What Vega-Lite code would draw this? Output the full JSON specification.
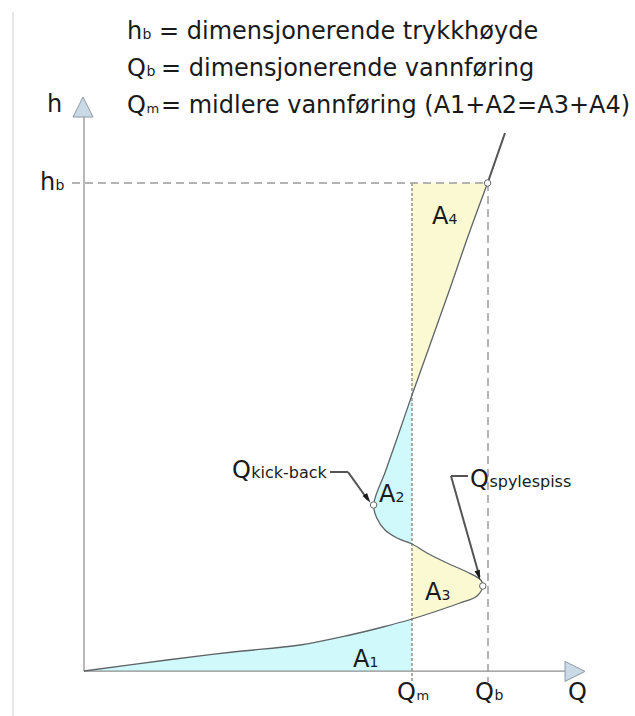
{
  "$schema": "https://vega.github.io/schema/vega-lite/v6.json",
  "width": 635,
  "height": 716,
  "autosize": {"type": "none"},
  "padding": 0,
  "background": "white",
  "config": {"view": {"stroke": null}},
  "resolve": {"scale": {"color": "independent", "strokeDash": "independent", "strokeWidth": "independent"}},
  "datasets": {
    "curve": [
      {"i": 0, "q": 0, "h": 0},
      {"i": 1, "q": 20.75, "h": 2.75},
      {"i": 2, "q": 37.25, "h": 4.75},
      {"i": 3, "q": 54, "h": 6.5},
      {"i": 4, "q": 66.5, "h": 9},
      {"i": 5, "q": 74.75, "h": 11},
      {"i": 6, "q": 82, "h": 13},
      {"i": 7, "q": 89, "h": 15.25},
      {"i": 8, "q": 94, "h": 17},
      {"i": 9, "q": 98.25, "h": 18.75},
      {"i": 10, "q": 99.7, "h": 21.25},
      {"i": 11, "q": 99.2, "h": 22.75},
      {"i": 12, "q": 95.75, "h": 24.75},
      {"i": 13, "q": 90.75, "h": 27},
      {"i": 14, "q": 85.75, "h": 29.5},
      {"i": 15, "q": 82, "h": 31.75},
      {"i": 16, "q": 78.25, "h": 33.25},
      {"i": 17, "q": 75.25, "h": 35.25},
      {"i": 18, "q": 73.2, "h": 38.25},
      {"i": 19, "q": 72.4, "h": 41.5},
      {"i": 20, "q": 75.4, "h": 50},
      {"i": 21, "q": 78.9, "h": 60},
      {"i": 22, "q": 82, "h": 69},
      {"i": 23, "q": 86.3, "h": 81},
      {"i": 24, "q": 91.1, "h": 94.5},
      {"i": 25, "q": 96.3, "h": 109.5},
      {"i": 26, "q": 100.9, "h": 122}
    ],
    "fill": [
      {"seg": "A1", "q": 0, "h": 0, "qm": 82},
      {"seg": "A1", "q": 20.75, "h": 2.75, "qm": 82},
      {"seg": "A1", "q": 37.25, "h": 4.75, "qm": 82},
      {"seg": "A1", "q": 54, "h": 6.5, "qm": 82},
      {"seg": "A1", "q": 66.5, "h": 9, "qm": 82},
      {"seg": "A1", "q": 74.75, "h": 11, "qm": 82},
      {"seg": "A1", "q": 82, "h": 13, "qm": 82},
      {"seg": "A3", "q": 82, "h": 13, "qm": 82},
      {"seg": "A3", "q": 89, "h": 15.25, "qm": 82},
      {"seg": "A3", "q": 94, "h": 17, "qm": 82},
      {"seg": "A3", "q": 98.25, "h": 18.75, "qm": 82},
      {"seg": "A3", "q": 99.7, "h": 21.25, "qm": 82},
      {"seg": "A3", "q": 99.2, "h": 22.75, "qm": 82},
      {"seg": "A3", "q": 95.75, "h": 24.75, "qm": 82},
      {"seg": "A3", "q": 90.75, "h": 27, "qm": 82},
      {"seg": "A3", "q": 85.75, "h": 29.5, "qm": 82},
      {"seg": "A3", "q": 82, "h": 31.75, "qm": 82},
      {"seg": "A2", "q": 82, "h": 31.75, "qm": 82},
      {"seg": "A2", "q": 78.25, "h": 33.25, "qm": 82},
      {"seg": "A2", "q": 75.25, "h": 35.25, "qm": 82},
      {"seg": "A2", "q": 73.2, "h": 38.25, "qm": 82},
      {"seg": "A2", "q": 72.4, "h": 41.5, "qm": 82},
      {"seg": "A2", "q": 75.4, "h": 50, "qm": 82},
      {"seg": "A2", "q": 78.9, "h": 60, "qm": 82},
      {"seg": "A2", "q": 82, "h": 69, "qm": 82},
      {"seg": "A4", "q": 82, "h": 69, "qm": 82},
      {"seg": "A4", "q": 86.3, "h": 81, "qm": 82},
      {"seg": "A4", "q": 91.1, "h": 94.5, "qm": 82},
      {"seg": "A4", "q": 96.3, "h": 109.5, "qm": 82},
      {"seg": "A4", "q": 100.9, "h": 122, "qm": 82}
    ],
    "rules": [
      {"part": "border", "q": -17.75, "h": 164.75, "q2": -17.75, "h2": -11.25},
      {"part": "axis", "q": 0, "h": 0, "q2": 0, "h2": 138.5},
      {"part": "axis", "q": 0, "h": 0, "q2": 120.25, "h2": 0},
      {"part": "dash", "q": -3, "h": 122, "q2": 101, "h2": 122},
      {"part": "dash", "q": 101, "h": 122, "q2": 101, "h2": -2.75},
      {"part": "dot", "q": 82, "h": 122, "q2": 82, "h2": -2.75},
      {"part": "leader", "q": 61.5, "h": 49.75, "q2": 66, "h2": 49.75},
      {"part": "leader", "q": 66, "h": 49.75, "q2": 71, "h2": 42.75},
      {"part": "leader", "q": 96, "h": 48.75, "q2": 91.75, "h2": 48.75},
      {"part": "leader", "q": 91.75, "h": 48.75, "q2": 98.9, "h2": 23.5},
      {"part": "leader", "q": 100.9, "h": 122, "q2": 105.25, "h2": 134.5}
    ],
    "points": [
      {"kind": "circle", "q": 100.9, "h": 122},
      {"kind": "circle", "q": 72.4, "h": 41.5},
      {"kind": "circle", "q": 99.7, "h": 21.25},
      {"kind": "upArrow", "q": -0.25, "h": 141},
      {"kind": "rightArrow", "q": 122.75, "h": -0.1},
      {"kind": "headKick", "q": 70.9, "h": 43.1},
      {"kind": "headSpyle", "q": 98.65, "h": 23.95}
    ],
    "labels": [
      {"role": "main", "t": "h", "q": 10.75, "h": 158},
      {"role": "sub", "t": "b", "q": 14.6, "h": 158},
      {"role": "main", "t": "= dimensjonerende trykkhøyde", "q": 18.75, "h": 158},
      {"role": "main", "t": "Q", "q": 10.75, "h": 148.75},
      {"role": "sub", "t": "b", "q": 15.6, "h": 148.75},
      {"role": "main", "t": "= dimensjonerende vannføring", "q": 19.25, "h": 148.75},
      {"role": "main", "t": "Q", "q": 10.75, "h": 139.5},
      {"role": "subm", "t": "m", "q": 15.6, "h": 139.5},
      {"role": "main", "t": "= midlere vannføring (A1+A2=A3+A4)", "q": 19.25, "h": 139.5},
      {"role": "main", "t": "h", "q": -9.25, "h": 139.75},
      {"role": "main", "t": "h", "q": -11, "h": 120.25},
      {"role": "sub", "t": "b", "q": -7.15, "h": 120.25},
      {"role": "main", "t": "Q", "q": 78.25, "h": -7.25},
      {"role": "subm", "t": "m", "q": 83.1, "h": -7.25},
      {"role": "main", "t": "Q", "q": 97.75, "h": -7.25},
      {"role": "sub", "t": "b", "q": 102.6, "h": -7.25},
      {"role": "main", "t": "Q", "q": 121, "h": -7.25},
      {"role": "main", "t": "Q", "q": 37, "h": 48.25},
      {"role": "word", "t": "kick-back", "q": 41.8, "h": 48.25},
      {"role": "main", "t": "Q", "q": 96.5, "h": 46},
      {"role": "word", "t": "spylespiss", "q": 101.35, "h": 46},
      {"role": "main", "t": "A", "q": 67.25, "h": 1},
      {"role": "sub", "t": "1", "q": 71.4, "h": 1},
      {"role": "main", "t": "A", "q": 73.75, "h": 42.25},
      {"role": "sub", "t": "2", "q": 77.9, "h": 42.25},
      {"role": "main", "t": "A", "q": 85.25, "h": 17.75},
      {"role": "sub", "t": "3", "q": 89.4, "h": 17.75},
      {"role": "main", "t": "A", "q": 87, "h": 111.75},
      {"role": "sub", "t": "4", "q": 91.15, "h": 111.75}
    ]
  },
  "encoding": {
    "x": {"field": "q", "type": "quantitative", "scale": {"domain": [-21, 137.75], "nice": false, "zero": false}, "axis": null},
    "y": {"field": "h", "type": "quantitative", "scale": {"domain": [-11.25, 167.75], "nice": false, "zero": false}, "axis": null}
  },
  "layer": [
    {
      "data": {"name": "fill"},
      "mark": {"type": "area", "orient": "horizontal", "interpolate": "catmull-rom", "opacity": 1},
      "encoding": {
        "x2": {"field": "qm"},
        "detail": {"field": "seg", "type": "nominal"},
        "color": {"field": "seg", "type": "nominal", "legend": null,
          "scale": {"domain": ["A1", "A2", "A3", "A4"], "range": ["#d0f9fc", "#d0f9fc", "#fbf9d2", "#fbf9d2"]}}
      }
    },
    {
      "data": {"name": "rules"},
      "mark": {"type": "rule"},
      "encoding": {
        "x2": {"field": "q2"},
        "y2": {"field": "h2"},
        "color": {"field": "part", "type": "nominal", "legend": null,
          "scale": {"domain": ["border", "axis", "dash", "dot", "leader"], "range": ["#cfcfcf", "#8e8e8e", "#9c9c9c", "#a2a29a", "#555555"]}},
        "strokeDash": {"field": "part", "type": "nominal", "legend": null,
          "scale": {"domain": ["border", "axis", "dash", "dot", "leader"], "range": [[1, 0], [1, 0], [8, 5], [3, 2], [1, 0]]}},
        "strokeWidth": {"field": "part", "type": "ordinal", "legend": null,
          "scale": {"domain": ["border", "axis", "dash", "dot", "leader"], "range": [1, 2, 1.6, 1.4, 1]}}
      }
    },
    {
      "data": {"name": "curve"},
      "mark": {"type": "line", "interpolate": "catmull-rom", "color": "#5e6466", "strokeWidth": 1.3},
      "encoding": {"order": {"field": "i", "type": "quantitative"}}
    },
    {
      "data": {"name": "points"},
      "transform": [{"filter": "datum.kind === 'circle'"}],
      "mark": {"type": "point", "shape": "circle", "filled": true, "fill": "white", "stroke": "#666666", "strokeWidth": 1, "size": 42, "opacity": 1}
    },
    {
      "data": {"name": "points"},
      "transform": [{"filter": "datum.kind === 'upArrow'"}],
      "mark": {"type": "point", "shape": "M0,-1L1,1L-1,1Z", "filled": true, "fill": "#c9d9e5", "stroke": "#8c9aa6", "strokeWidth": 1, "size": 400, "opacity": 1}
    },
    {
      "data": {"name": "points"},
      "transform": [{"filter": "datum.kind === 'rightArrow'"}],
      "mark": {"type": "point", "shape": "M1,0L-1,-1L-1,1Z", "filled": true, "fill": "#c9d9e5", "stroke": "#8c9aa6", "strokeWidth": 1, "size": 400, "opacity": 1}
    },
    {
      "data": {"name": "points"},
      "transform": [{"filter": "datum.kind === 'headKick'"}],
      "mark": {"type": "point", "shape": "M1,0L-1,-0.55L-1,0.55Z", "filled": true, "fill": "#1a1a1a", "size": 100, "angle": 55.6, "opacity": 1}
    },
    {
      "data": {"name": "points"},
      "transform": [{"filter": "datum.kind === 'headSpyle'"}],
      "mark": {"type": "point", "shape": "M1,0L-1,-0.55L-1,0.55Z", "filled": true, "fill": "#1a1a1a", "size": 100, "angle": 74, "opacity": 1}
    },
    {
      "data": {"name": "labels"},
      "transform": [{"filter": "datum.role === 'main'"}],
      "mark": {"type": "text", "align": "left", "baseline": "alphabetic", "font": "DejaVu Sans", "fontSize": 24, "color": "#1a1a1a"},
      "encoding": {"text": {"field": "t"}}
    },
    {
      "data": {"name": "labels"},
      "transform": [{"filter": "datum.role === 'sub'"}],
      "mark": {"type": "text", "align": "left", "baseline": "alphabetic", "font": "DejaVu Sans", "fontSize": 14, "color": "#1a1a1a"},
      "encoding": {"text": {"field": "t"}}
    },
    {
      "data": {"name": "labels"},
      "transform": [{"filter": "datum.role === 'subm'"}],
      "mark": {"type": "text", "align": "left", "baseline": "alphabetic", "font": "DejaVu Sans", "fontSize": 13, "color": "#1a1a1a"},
      "encoding": {"text": {"field": "t"}}
    },
    {
      "data": {"name": "labels"},
      "transform": [{"filter": "datum.role === 'word'"}],
      "mark": {"type": "text", "align": "left", "baseline": "alphabetic", "font": "DejaVu Sans", "fontSize": 16, "color": "#1a1a1a"},
      "encoding": {"text": {"field": "t"}}
    }
  ]
}
